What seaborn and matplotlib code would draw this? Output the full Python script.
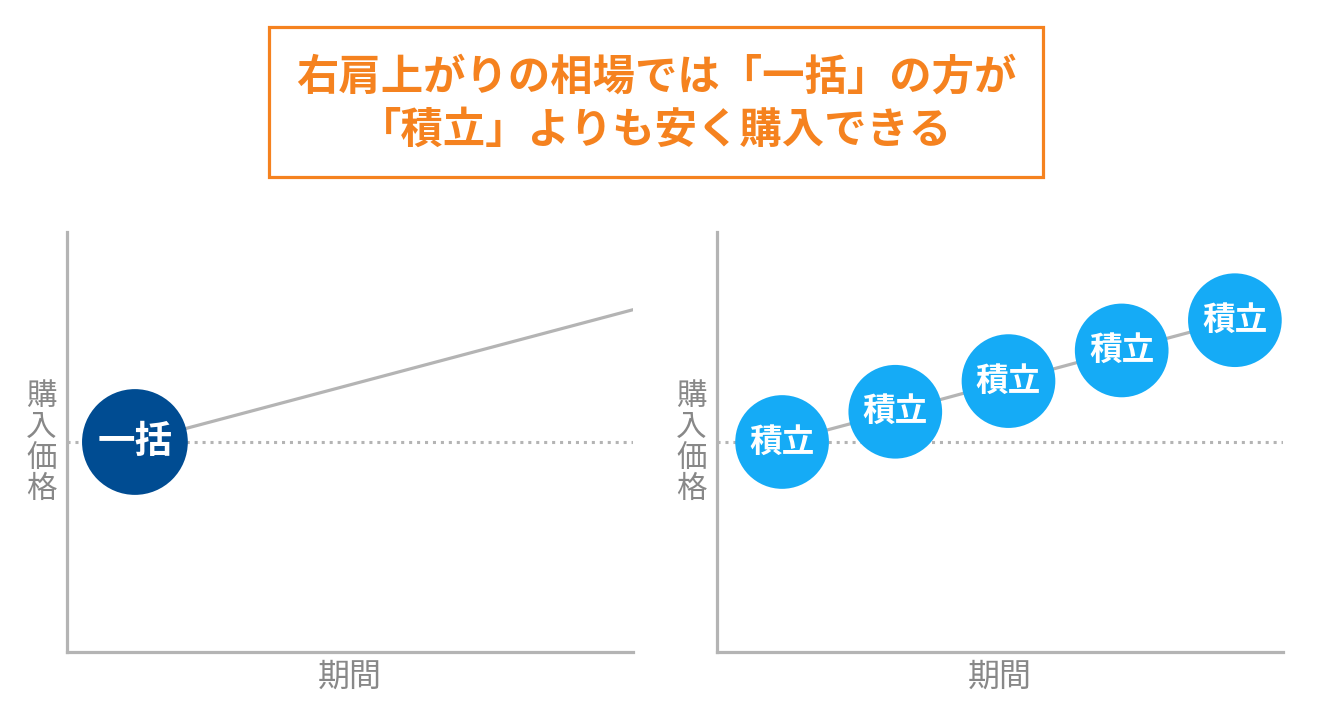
import matplotlib
matplotlib.use("Agg")
import matplotlib.pyplot as plt
from matplotlib.patches import Rectangle
import seaborn as sns
import pandas as pd

# data (x = period, y = purchase price)
lump_x = [1.2, 10.0]
lump_y = [5.0, 8.15]
lump_label = "一括"

dca_x = [1.15, 3.15, 5.15, 7.15, 9.15]
dca_y = [5.0, 5.72, 6.45, 7.18, 7.9]
dca_label = "積立"

base_price = 5.0
title_lines = ["右肩上がりの相場では「一括」の方が", "「積立」よりも安く購入できる"]
ylabel = "購\n入\n価\n格"
xlabel = "期間"

ORANGE = "#F5821F"
GREY = "#b4b4b4"
TEXT_GREY = "#888888"
DARK_BLUE = "#004C92"
LIGHT_BLUE = "#15ABF6"

sns.set_style("white")
plt.rcParams['font.family'] = ['Noto Sans CJK JP', 'DejaVu Sans']

fig = plt.figure(figsize=(13.2, 7.16), dpi=100)
ax1 = fig.add_axes([67/1320, 1-652/716, 566/1320, 420/716])
ax2 = fig.add_axes([717/1320, 1-652/716, 566/1320, 420/716])

lump_df = pd.DataFrame({"x": lump_x, "y": lump_y})
dca_df = pd.DataFrame({"x": dca_x, "y": dca_y})

# left: lump-sum
sns.lineplot(data=lump_df, x="x", y="y", ax=ax1, color=GREY, lw=2.3, zorder=2)
sns.scatterplot(data=lump_df.iloc[:1], x="x", y="y", ax=ax1, s=5800, color=DARK_BLUE,
                edgecolor="none", zorder=3, clip_on=False)
ax1.text(lump_x[0], lump_y[0], lump_label, ha="center", va="center", color="white",
         fontsize=27, fontweight="bold", zorder=4)

# right: dollar-cost averaging
sns.lineplot(data=dca_df, x="x", y="y", ax=ax2, color=GREY, lw=2.3, zorder=2)
sns.scatterplot(data=dca_df, x="x", y="y", ax=ax2, s=4550, color=LIGHT_BLUE,
                edgecolor="none", zorder=3, clip_on=False)
for x, y in zip(dca_x, dca_y):
    ax2.text(x, y, dca_label, ha="center", va="center", color="white",
             fontsize=23.5, fontweight="bold", zorder=4)

for ax in (ax1, ax2):
    ax.set_xlim(0, 10)
    ax.set_ylim(0, 10)
    ax.axhline(base_price, color=GREY, lw=2.2, ls=(0, (1, 1.6)), zorder=1)
    sns.despine(ax=ax)
    for s in ("left", "bottom"):
        ax.spines[s].set_color(GREY)
        ax.spines[s].set_linewidth(2.3)
    ax.set_xticks([])
    ax.set_yticks([])
    ax.set_xlabel(xlabel, fontsize=23, color=TEXT_GREY, labelpad=6)
    ax.set_ylabel("")
    ax.text(-0.045, 0.497, ylabel, transform=ax.transAxes, ha="center", va="center",
            fontsize=22, color=TEXT_GREY, linespacing=1.0)

# title box
fig.patches.append(Rectangle((269/1320, 1-177/716), 774/1320, 150/716, transform=fig.transFigure,
                             fill=False, edgecolor=ORANGE, lw=2.3))
fig.text(656/1320, 1-78/716, title_lines[0], ha="center", va="center", color=ORANGE,
         fontsize=30.5, fontweight="bold")
fig.text(656/1320, 1-131/716, title_lines[1], ha="center", va="center", color=ORANGE,
         fontsize=30.5, fontweight="bold")

fig.savefig("out.png", dpi=100)
